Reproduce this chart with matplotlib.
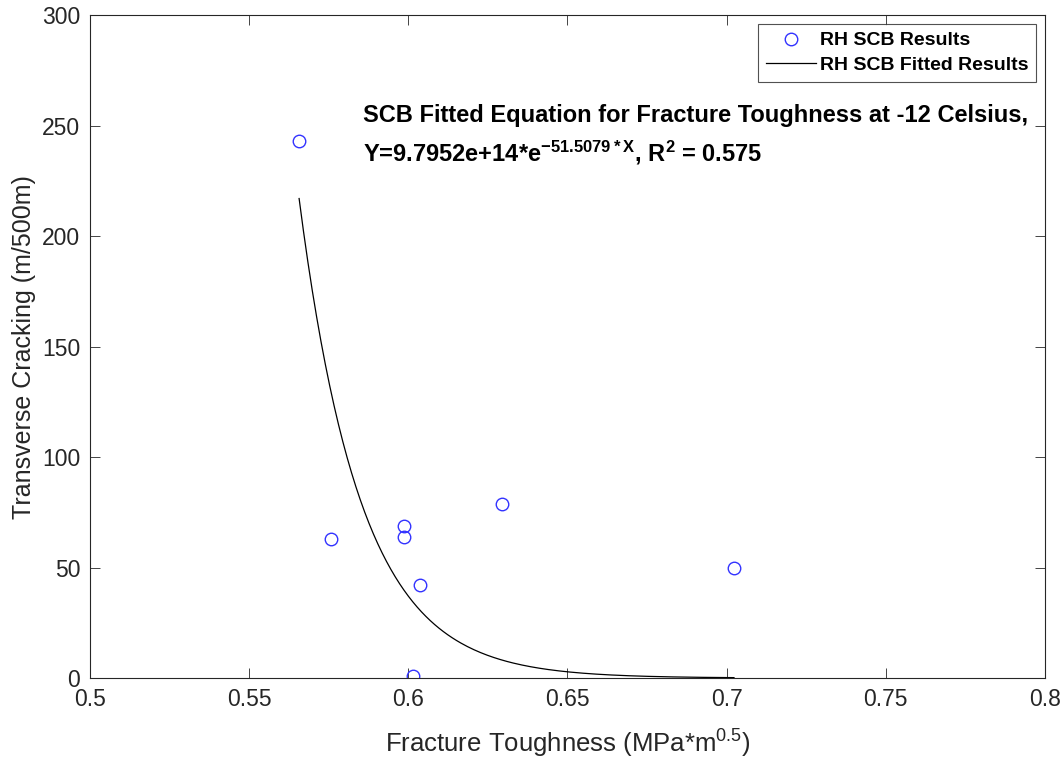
import numpy as np
import matplotlib.pyplot as plt

# Measured data (fracture toughness vs transverse cracking)
toughness = [0.5657, 0.5757, 0.5987, 0.5987, 0.6037, 0.6015, 0.6294, 0.7023]
cracking = [243.0, 62.9, 68.8, 63.8, 42.1, 1.0, 78.7, 49.8]

# Fitted exponential model Y = a * exp(b * X)
fit_a = 9.7952e14
fit_b = -51.5079
r_squared = 0.575

x_ticks = [0.5, 0.55, 0.6, 0.65, 0.7, 0.75, 0.8]
y_ticks = [0, 50, 100, 150, 200, 250, 300]

plt.rcParams['font.family'] = ['Liberation Sans', 'DejaVu Sans']
plt.rcParams['mathtext.fontset'] = 'custom'
plt.rcParams['mathtext.rm'] = 'Liberation Sans'
plt.rcParams['mathtext.bf'] = 'Liberation Sans:bold'
plt.rcParams['mathtext.default'] = 'regular'

fig = plt.figure(figsize=(10.62, 7.61), dpi=100)
ax = fig.add_axes([0.0847, 0.109, 0.8993, 0.871])

ax.plot(toughness, cracking, 'o', markerfacecolor='none', markeredgecolor='#3333ff',
        markersize=9, markeredgewidth=1.0, label='RH SCB Results')

x_fit = np.linspace(min(toughness), max(toughness), 200)
y_fit = fit_a * np.exp(fit_b * x_fit)
ax.plot(x_fit, y_fit, color='black', linewidth=0.9, label='RH SCB Fitted Results')

ax.set_xlim(0.5, 0.8)
ax.set_ylim(0, 300)
ax.set_xticks(x_ticks)
ax.set_xticklabels([f'{t:g}' for t in x_ticks])
ax.set_yticks(y_ticks)
ax.tick_params(direction='in', top=True, right=True, labelsize=16.5, length=7,
               width=0.6, colors='#262626', pad=7)
for s in ax.spines.values():
    s.set_linewidth(0.8)
    s.set_color('#262626')

ax.set_xlabel('Fracture Toughness (MPa*m$^{0.5}$)', fontsize=18.5, color='#262626', labelpad=12)
ax.set_ylabel('Transverse Cracking (m/500m)', fontsize=18, color='#262626', labelpad=4)

ax.text(0.5858, 254.5, 'SCB Fitted Equation for Fracture Toughness at -12 Celsius,',
        fontsize=17, fontweight='bold', va='center', ha='left')
ax.text(0.5858, 237.5,
        'Y=9.7952e+14*e$^{\\mathbf{-51.5079*X}}$, R$^{\\mathbf{2}}$ = ' + f'{r_squared:g}',
        fontsize=17, fontweight='bold', va='center', ha='left')

leg = ax.legend(loc='upper right', fancybox=False, edgecolor='#262626',
                prop={'weight': 'bold', 'size': 14},
                handlelength=2.6, handletextpad=0.2, borderpad=0.4, labelspacing=0.35,
                borderaxespad=0.45)
leg.get_frame().set_linewidth(0.8)

plt.savefig('out.png', dpi=100)
